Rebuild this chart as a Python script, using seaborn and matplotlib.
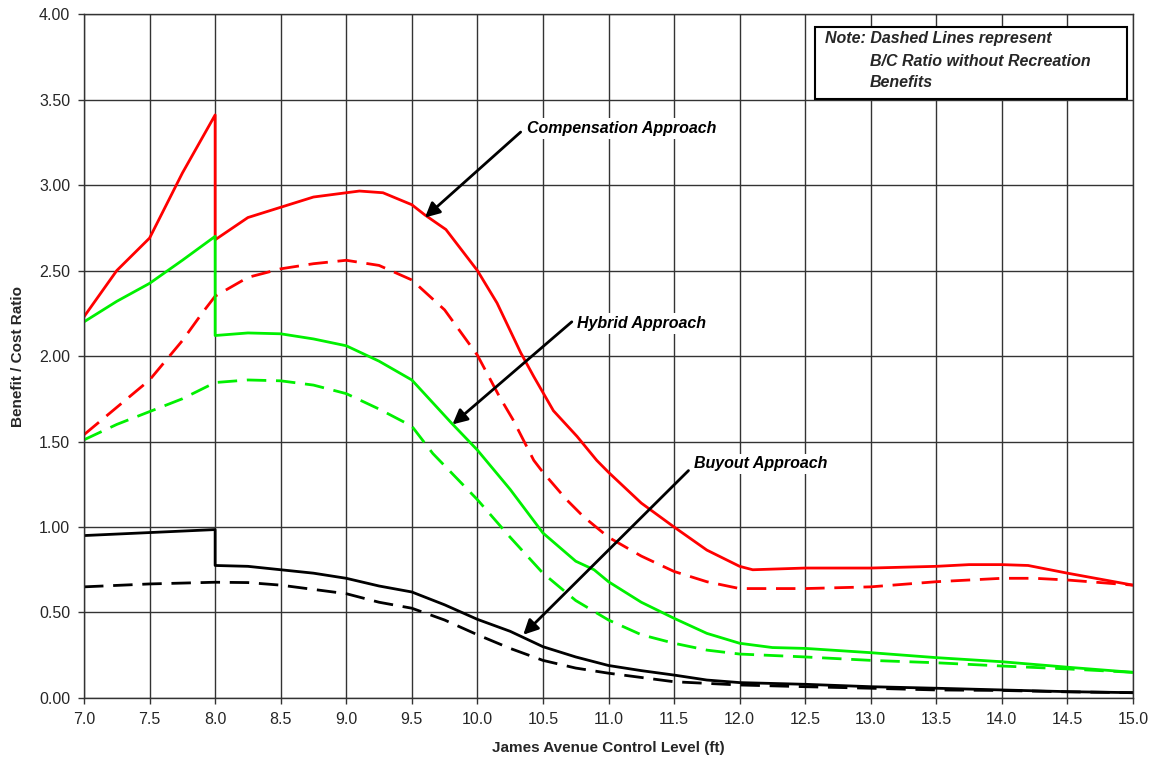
import numpy as np
import pandas as pd
import matplotlib
matplotlib.use("Agg")
import matplotlib.pyplot as plt
import seaborn as sns

# Control level (ft); 8.0 appears twice where the curves step down
comp_x = [7.0, 7.25, 7.5, 7.75, 8.0, 8.0, 8.25, 8.5, 8.75, 9.0, 9.1, 9.28, 9.5, 9.6, 9.76,
          10.0, 10.15, 10.33, 10.43, 10.58, 10.76, 10.91, 11.0, 11.25, 11.5, 11.75, 12.0,
          12.1, 12.5, 13.0, 13.5, 13.75, 14.0, 14.2, 14.5, 15.0]
comp_with = [2.23, 2.50, 2.69, 3.07, 3.41, 2.68, 2.81, 2.87, 2.93, 2.955, 2.965, 2.955,
             2.885, 2.825, 2.74, 2.50, 2.31, 2.02, 1.88, 1.68, 1.53, 1.39, 1.32, 1.14,
             1.00, 0.865, 0.77, 0.75, 0.76, 0.76, 0.77, 0.78, 0.78, 0.775, 0.73, 0.66]

compd_x = [7.0, 7.25, 7.5, 7.75, 7.9, 8.0, 8.25, 8.5, 8.75, 9.0, 9.25, 9.5, 9.75, 10.0,
           10.17, 10.27, 10.43, 10.5, 10.68, 10.81, 11.0, 11.25, 11.5, 11.75, 12.0, 12.25,
           12.5, 13.0, 13.5, 14.0, 14.25, 14.5, 15.0]
comp_without = [1.54, 1.70, 1.86, 2.09, 2.25, 2.35, 2.46, 2.51, 2.54, 2.56, 2.53, 2.445,
                2.27, 2.005, 1.76, 1.63, 1.39, 1.32, 1.16, 1.06, 0.94, 0.83, 0.74, 0.68,
                0.64, 0.64, 0.64, 0.65, 0.68, 0.70, 0.70, 0.69, 0.66]

hyb_x = [7.0, 7.25, 7.5, 7.75, 8.0, 8.0, 8.25, 8.5, 8.75, 9.0, 9.25, 9.5, 9.8, 10.0,
         10.25, 10.5, 10.75, 10.89, 11.0, 11.25, 11.5, 11.75, 12.0, 12.25, 12.5, 13.0,
         13.5, 14.0, 14.5, 15.0]
hyb_with = [2.20, 2.32, 2.425, 2.56, 2.70, 2.12, 2.135, 2.13, 2.10, 2.06, 1.97, 1.86,
            1.61, 1.45, 1.22, 0.965, 0.80, 0.75, 0.68, 0.56, 0.466, 0.378, 0.32, 0.295,
            0.29, 0.265, 0.236, 0.212, 0.18, 0.15]

hybd_x = [7.0, 7.25, 7.5, 7.75, 8.0, 8.25, 8.5, 8.75, 9.0, 9.25, 9.5, 9.66, 10.0, 10.25,
          10.5, 10.75, 11.0, 11.25, 11.5, 11.75, 12.0, 12.5, 13.0, 13.5, 14.0, 14.5, 15.0]
hyb_without = [1.51, 1.60, 1.675, 1.75, 1.845, 1.86, 1.855, 1.83, 1.78, 1.69, 1.59, 1.43,
               1.16, 0.94, 0.73, 0.57, 0.456, 0.37, 0.32, 0.28, 0.257, 0.24, 0.22, 0.206,
               0.187, 0.17, 0.15]

buy_x = [7.0, 8.0, 8.0, 8.25, 8.5, 8.75, 9.0, 9.25, 9.5, 9.75, 10.0, 10.25, 10.5, 10.75,
         11.0, 11.25, 11.5, 11.75, 12.0, 12.5, 13.0, 13.5, 14.0, 14.5, 15.0]
buy_with = [0.95, 0.985, 0.775, 0.77, 0.75, 0.73, 0.70, 0.655, 0.62, 0.545, 0.46, 0.39,
            0.30, 0.24, 0.19, 0.16, 0.134, 0.105, 0.09, 0.08, 0.066, 0.057, 0.047, 0.037,
            0.031]

buyd_x = [7.0, 7.5, 8.0, 8.25, 8.5, 8.75, 9.0, 9.25, 9.5, 9.75, 10.0, 10.25, 10.5, 10.75,
          11.0, 11.25, 11.5, 12.0, 12.5, 13.0, 13.5, 14.0, 14.5, 15.0]
buy_without = [0.65, 0.667, 0.677, 0.675, 0.66, 0.635, 0.61, 0.56, 0.525, 0.456, 0.37,
               0.29, 0.22, 0.175, 0.145, 0.12, 0.095, 0.076, 0.066, 0.057, 0.047, 0.044,
               0.036, 0.031]

x_ticks = [7.0, 7.5, 8.0, 8.5, 9.0, 9.5, 10.0, 10.5, 11.0, 11.5, 12.0, 12.5, 13.0, 13.5,
           14.0, 14.5, 15.0]
y_ticks = [0.0, 0.5, 1.0, 1.5, 2.0, 2.5, 3.0, 3.5, 4.0]

series = [
    ("Compensation", "with", comp_x, comp_with),
    ("Compensation", "without", compd_x, comp_without),
    ("Hybrid", "with", hyb_x, hyb_with),
    ("Hybrid", "without", hybd_x, hyb_without),
    ("Buyout", "with", buy_x, buy_with),
    ("Buyout", "without", buyd_x, buy_without),
]
frames = []
for approach, kind, xs, ys in series:
    frames.append(pd.DataFrame({"level": xs, "ratio": ys, "approach": approach,
                                "kind": kind}))
df = pd.concat(frames, ignore_index=True)

sns.set_style("white")
plt.rcParams["font.family"] = ["Liberation Sans", "DejaVu Sans"]

fig = plt.figure(figsize=(11.54, 7.65), dpi=100)
ax = fig.add_axes([0.0728, 0.0876, 0.909, 0.894])

palette = {"Compensation": "#FF0000", "Hybrid": "#00F000", "Buyout": "#000000"}

for (approach, kind), sub in df.groupby(["approach", "kind"], sort=False):
    n_before = len(ax.lines)
    sns.lineplot(data=sub, x="level", y="ratio", ax=ax, color=palette[approach],
                 estimator=None, sort=False, lw=2.0, legend=False)
    if kind == "without":
        for line in ax.lines[n_before:]:
            line.set_dashes((7, 3.5))

ax.set_xlim(7.0, 15.0)
ax.set_ylim(0.0, 4.0)
ax.set_xticks(x_ticks)
ax.set_yticks(y_ticks)
ax.set_xticklabels([f"{v:.1f}" for v in x_ticks], fontsize=11.5)
ax.set_yticklabels([f"{v:.2f}" for v in y_ticks], fontsize=11.5)
ax.grid(True, color="#333333", lw=1.0)
ax.set_axisbelow(True)
ax.tick_params(axis="both", direction="out", length=4, width=1, color="#333333",
               pad=6, bottom=True, left=True)
for side, sp in ax.spines.items():
    sp.set_color("#333333")
    sp.set_linewidth(1.0)

ax.set_xlabel("James Avenue Control Level (ft)", fontsize=11, fontweight="bold",
              labelpad=10)
ax.set_ylabel("Benefit / Cost Ratio", fontsize=11, fontweight="bold", labelpad=10)

label_style = dict(fontsize=11.5, fontweight="bold", fontstyle="italic", color="black",
                   ha="left", va="center",
                   bbox=dict(facecolor="white", edgecolor="none", pad=2))
arrow_style = dict(arrowstyle="-|>", color="black", lw=2.0, mutation_scale=22,
                   shrinkA=0, shrinkB=0)

ax.annotate("", xy=(9.60, 2.81), xytext=(10.33, 3.31), arrowprops=arrow_style)
ax.text(10.38, 3.33, "Compensation Approach", **label_style)
ax.annotate("", xy=(9.81, 1.60), xytext=(10.72, 2.20), arrowprops=arrow_style)
ax.text(10.76, 2.19, "Hybrid Approach", **label_style)
ax.annotate("", xy=(10.35, 0.37), xytext=(11.61, 1.33), arrowprops=arrow_style)
ax.text(11.65, 1.37, "Buyout Approach", **label_style)

# Note box in the upper right corner
note_box = matplotlib.patches.Rectangle((0.697, 0.876), 0.297, 0.105,
                                        transform=ax.transAxes, facecolor="white",
                                        edgecolor="black", lw=1.5, zorder=5)
ax.add_patch(note_box)
note_kw = dict(transform=ax.transAxes, fontsize=11.5, fontweight="bold",
               fontstyle="italic", ha="left", va="center", zorder=6)
ax.text(0.706, 0.965, "Note: Dashed Lines represent", **note_kw)
ax.text(0.749, 0.931, "B/C Ratio without Recreation", **note_kw)
ax.text(0.749, 0.900, "Benefits", **note_kw)

fig.savefig("out.png", dpi=100)
